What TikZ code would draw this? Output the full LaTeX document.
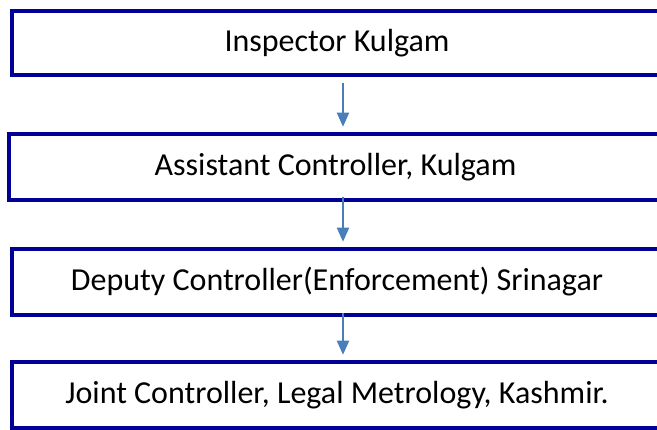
\documentclass[tikz,border=0pt]{standalone}
\usepackage{fontspec}
\setmainfont{Carlito}
\usetikzlibrary{arrows.meta}
\definecolor{boxnavy}{RGB}{0,0,150}
\definecolor{arrowblue}{RGB}{74,126,187}

\begin{document}
\begin{tikzpicture}[x=1pt,y=-1pt]
  \useasboundingbox (0,0) rectangle (657,430);
  \clip (0,0) rectangle (657,430);
  \begin{scope}[
    every node/.style={
      draw=boxnavy,
      line width=4.5pt,
      minimum width=650pt,
      minimum height=66pt,
      font=\fontsize{32}{38}\selectfont,
    },
    ]
    \node[minimum height=64pt] (inspector) at (337,43)  {Inspector Kulgam};
    \node[minimum width=653pt] (asstctrl)  at (335.5,167) {Assistant Controller, Kulgam};
    \node (depctrl)   at (337,282) {Deputy Controller(Enforcement) Srinagar};
    \node (jointctrl) at (337,395) {Joint Controller, Legal Metrology, Kashmir.};
  \end{scope}
  \begin{scope}[
    every edge/.style={draw=arrowblue,line width=2pt,-{Triangle[width=12pt,length=14pt]},shorten >=5pt},
    ]
    \path
    ([xshift=6pt]inspector.south)  edge[shorten <=6pt]  ([xshift=7.5pt]asstctrl.north)
    ([xshift=7.5pt]asstctrl.south) edge[shorten <=-5pt] ([xshift=6pt]depctrl.north)
    ([xshift=6pt]depctrl.south)    edge[shorten <=-4pt] ([xshift=6pt]jointctrl.north);
  \end{scope}
\end{tikzpicture}
\end{document}
